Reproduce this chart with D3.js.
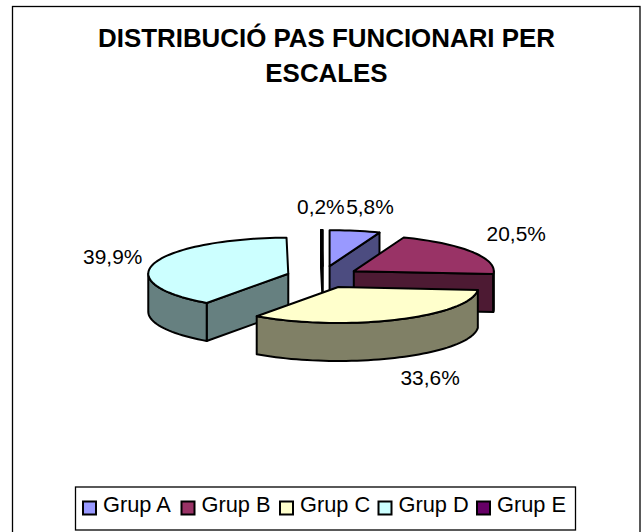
<!DOCTYPE html>
<html><head><meta charset="utf-8">
<script src="https://cdn.jsdelivr.net/npm/d3@7"></script>
<style>html,body{margin:0;padding:0;background:#fff;overflow:hidden}svg{display:block}text{font-family:"Liberation Sans",Arial,sans-serif;fill:#000}</style>
</head><body><div id="chart"></div>
<script>
const titleLines = ["DISTRIBUCIÓ PAS FUNCIONARI PER", "ESCALES"];
const categories = ["Grup A", "Grup B", "Grup C", "Grup D", "Grup E"];
const values = [5.8, 20.5, 33.6, 39.9, 0.2];
const valueLabels = ["5,8%", "20,5%", "33,6%", "39,9%", "0,2%"];
const topColors = ["#9999FF", "#993366", "#FFFFCC", "#CCFFFF", "#660066"];
const sideColors = ["#4C4C80", "#4D1A33", "#808066", "#668080", "#330033"];

const W = 643, H = 532;
const svg = d3.select("#chart").append("svg").attr("width", W).attr("height", H);
svg.append("rect").attr("x", 12.5).attr("y", 6.5).attr("width", 627.5).attr("height", 540)
  .attr("fill", "#fff").attr("stroke", "#000").attr("stroke-width", 1.3);

svg.selectAll("text.title").data(titleLines).join("text").attr("class", "title")
  .attr("x", 326.5).attr("y", (d, i) => 47 + i * 35).attr("text-anchor", "middle")
  .attr("font-size", 25.9).attr("font-weight", "bold").text(d => d);

// pie geometry
const cx = 323, cy = 277, rx = 140, ry = 36, depth = 38, explodeX = 36.4, explodeY = 11;
const pie = d3.pie().sort(null).value(d => d)(values);
const sx = d3.scaleLinear().domain([-1, 1]).range([-rx, rx]);
const sy = d3.scaleLinear().domain([-1, 1]).range([ry, -ry]);
const drawOrder = [0, 4, 3, 1, 2];

const midOf = p => (p.startAngle + p.endAngle) / 2;
const centerOf = p => [cx + explodeX * Math.sin(midOf(p)), cy - explodeY * Math.cos(midOf(p))];

function arcPts(a0, a1, c, dy) {
  const n = Math.max(2, Math.ceil((a1 - a0) / 0.04));
  return d3.range(n + 1).map(i => {
    const a = a0 + (a1 - a0) * i / n;
    return [c[0] + sx(Math.sin(a)), c[1] + sy(Math.cos(a)) + dy];
  });
}
const path = d3.line();
const g = svg.append("g").attr("stroke", "#000").attr("stroke-width", 2).attr("stroke-linejoin", "round");

drawOrder.forEach(i => {
  const p = pie[i];
  const c = centerOf(p);
  const top = arcPts(p.startAngle, p.endAngle, c, 0);
  const sliceG = g.append("g");
  // radial cut faces: drawn only when they look toward the viewer
  [[p.startAngle, Math.sin(p.startAngle) < 0], [p.endAngle, Math.sin(p.endAngle) > 0]].forEach(([a, visible]) => {
    if (!visible) return;
    const e = [c[0] + sx(Math.sin(a)), c[1] + sy(Math.cos(a))];
    sliceG.append("path").attr("fill", sideColors[i])
      .attr("d", path([c, e, [e[0], e[1] + depth], [c[0], c[1] + depth]]) + "Z");
  });
  // outer wall: visible part is the lower half of the ellipse
  const a0 = Math.max(p.startAngle, Math.PI / 2), a1 = Math.min(p.endAngle, 3 * Math.PI / 2);
  if (a1 > a0) {
    const upper = arcPts(a0, a1, c, 0), lower = arcPts(a0, a1, c, depth).reverse();
    sliceG.append("path").attr("fill", sideColors[i]).attr("d", path(upper.concat(lower)) + "Z");
  }
  sliceG.append("path").attr("fill", topColors[i]).attr("d", path([c].concat(top)) + "Z");
});

// value labels: offset from each slice's rim point (layout only)
const labelOffsets = [[15, -17], [44, -11], [33, 65], [-42, 1], [-1, -16]];
svg.selectAll("text.val").data(pie).join("text").attr("class", "val")
  .attr("font-size", 20.9).attr("text-anchor", "middle")
  .attr("x", (d, i) => centerOf(d)[0] + sx(Math.sin(midOf(d))) + labelOffsets[i][0])
  .attr("y", (d, i) => centerOf(d)[1] + sy(Math.cos(midOf(d))) + labelOffsets[i][1])
  .text((d, i) => valueLabels[i]);

// legend
svg.append("rect").attr("x", 75.5).attr("y", 487).attr("width", 500).attr("height", 43)
  .attr("fill", "#fff").attr("stroke", "#000").attr("stroke-width", 1.3);
const legendX = d3.scalePoint().domain(categories).range([83, 477]);
const items = svg.selectAll("g.leg").data(categories).join("g").attr("class", "leg")
  .attr("transform", d => `translate(${legendX(d)},501.5)`);
items.append("rect").attr("width", 13).attr("height", 13)
  .attr("fill", (d, i) => topColors[i]).attr("stroke", "#000").attr("stroke-width", 2);
items.append("text").attr("x", 20).attr("y", 10.5).attr("font-size", 21.8).text(d => d);
</script></body></html>
